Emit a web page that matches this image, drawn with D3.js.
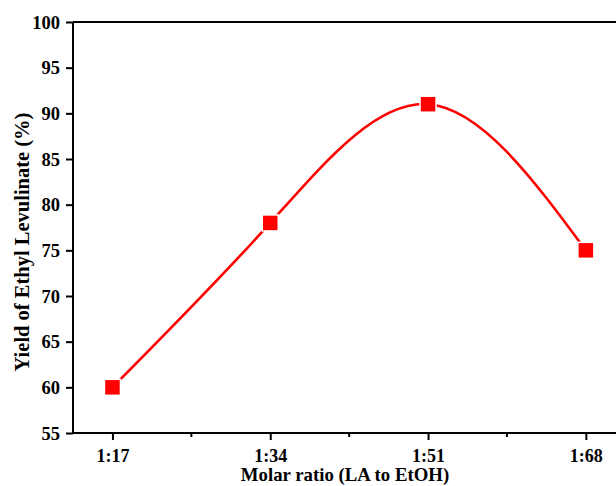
<!DOCTYPE html>
<html>
<head>
<meta charset="utf-8">
<script src="https://cdn.jsdelivr.net/npm/d3@7"></script>
<style>
  html, body { margin: 0; padding: 0; background: #ffffff; }
  svg { display: block; }
  text { font-family: "Liberation Serif", "Times New Roman", serif; font-weight: bold; fill: #000; }
</style>
</head>
<body>
<svg id="chart" width="616" height="486"></svg>
<script>
// ---- data ----
const ratioLabels = ["1:17", "1:34", "1:51", "1:68"];
const ratioValues = [17, 34, 51, 68];
const yieldValues = [60, 78, 91, 75];
const yTicks = [55, 60, 65, 70, 75, 80, 85, 90, 95, 100];
const xMinorTicks = [25.5, 42.5, 59.5];

const svg = d3.select("#chart");
const mLeft = 73, mTop = 22, mBottom = 433;
const mRight = mLeft + (72.25 - 12.75) / 17 * 157.8;

const x = d3.scaleLinear().domain([12.75, 72.25]).range([mLeft, mRight]);
const y = d3.scaleLinear().domain([55, 100]).range([mBottom, mTop]);

// frame
svg.append("line")
  .attr("x1", mLeft).attr("x2", mRight).attr("y1", mTop).attr("y2", mTop)
  .attr("stroke", "#000").attr("stroke-width", 2);
svg.append("line")
  .attr("x1", mRight).attr("x2", mRight).attr("y1", mTop).attr("y2", mBottom)
  .attr("stroke", "#000").attr("stroke-width", 2);

// y axis
const yAxis = d3.axisLeft(y).tickValues(yTicks).tickSize(7).tickPadding(6).tickFormat(d3.format("d"));
const gy = svg.append("g").attr("transform", `translate(${mLeft},0)`).call(yAxis);
gy.select(".domain").attr("stroke-width", 2).attr("d", `M0,${mTop}V${mBottom}`);
gy.selectAll(".tick line").attr("stroke-width", 2);
gy.selectAll(".tick text").style("font-size", "18.5px").attr("dy", "0.34em");

// x axis
const xAxis = d3.axisBottom(x).tickValues(ratioValues).tickSize(7).tickPadding(10)
  .tickFormat((d, i) => ratioLabels[i]);
const gx = svg.append("g").attr("transform", `translate(0,${mBottom})`).call(xAxis);
gx.select(".domain").attr("stroke-width", 2).attr("d", `M${mLeft},0H${mRight}`);
gx.selectAll(".tick line").attr("stroke-width", 2);
gx.selectAll(".tick text").style("font-size", "18px").attr("y", 28.5).attr("dy", 0);

// minor x ticks
svg.append("g").selectAll("line").data(xMinorTicks).join("line")
  .attr("x1", d => x(d)).attr("x2", d => x(d))
  .attr("y1", mBottom).attr("y2", mBottom + 4)
  .attr("stroke", "#000").attr("stroke-width", 2);

// axis titles
svg.append("text")
  .attr("x", 345).attr("y", 481)
  .attr("text-anchor", "middle")
  .style("font-size", "18.8px")
  .text("Molar ratio (LA to EtOH)");
svg.append("text")
  .attr("transform", "translate(29,242) rotate(-90)")
  .attr("text-anchor", "middle")
  .style("font-size", "20.5px")
  .text("Yield of Ethyl Levulinate (%)");

// data
const pts = ratioValues.map((v, i) => [v, yieldValues[i]]);
const line = d3.line().x(d => x(d[0])).y(d => y(d[1])).curve(d3.curveNatural);
svg.append("path").attr("d", line(pts))
  .attr("fill", "none").attr("stroke", "#ff0000").attr("stroke-width", 2.6);

const ms = 14.5;
svg.append("g").selectAll("rect").data(pts).join("rect")
  .attr("x", d => x(d[0]) - ms / 2).attr("y", d => y(d[1]) - ms / 2)
  .attr("width", ms).attr("height", ms)
  .attr("fill", "#ff0000").attr("stroke", "#ffffff").attr("stroke-width", 3)
  .attr("paint-order", "stroke");
</script>
</body>
</html>
